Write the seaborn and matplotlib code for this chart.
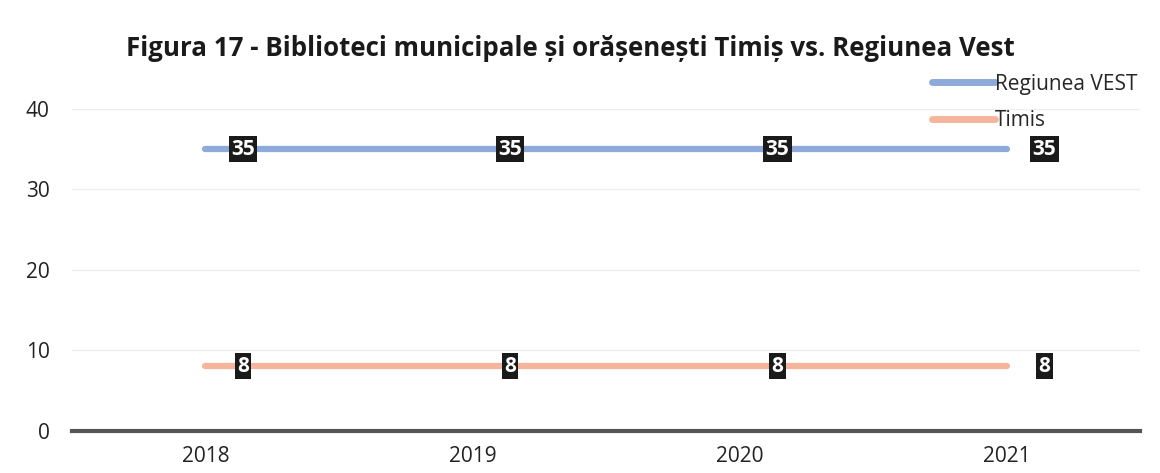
import matplotlib
matplotlib.use("Agg")
import matplotlib.pyplot as plt
import seaborn as sns
import pandas as pd

years = ["2018", "2019", "2020", "2021"]
regiunea_vest = [35, 35, 35, 35]
timis = [8, 8, 8, 8]
series_names = ["Regiunea VEST", "Timis"]

sns.set_theme(style="white")
plt.rcParams['font.family'] = ['Open Sans', 'DejaVu Sans']

df = pd.DataFrame({
    "an": years * 2,
    "valoare": regiunea_vest + timis,
    "serie": [series_names[0]] * len(years) + [series_names[1]] * len(years),
})

colors = {"Regiunea VEST": "#8eaadb", "Timis": "#f5b59c"}

fig = plt.figure(figsize=(11.6, 4.73), dpi=100)
ax = fig.add_axes([0.062, 0.089, 0.921, 0.681])

sns.lineplot(data=df, x="an", y="valoare", hue="serie", palette=colors,
             linewidth=4.5, ax=ax, sort=False)

# etichete de date
for i, yr in enumerate(years):
    for vals in (regiunea_vest, timis):
        ax.annotate(str(vals[i]), (i, vals[i]), xytext=(27, 0), textcoords="offset points",
                    ha="center", va="center", color="white", fontsize=15, fontweight="bold",
                    bbox=dict(boxstyle="square,pad=0.12", fc="#1a1a1a", ec="none"))

ax.set_xlim(-0.5, 3.5)
ax.set_ylim(0, 40)
ax.set_yticks([0, 10, 20, 30, 40])
ax.yaxis.grid(True, color="#eeeeee", linewidth=1)
ax.set_axisbelow(True)
for s in ["top", "right", "left"]:
    ax.spines[s].set_visible(False)
ax.spines["bottom"].set_color("#555555")
ax.spines["bottom"].set_linewidth(3)
ax.tick_params(axis="both", labelsize=15, colors="#222222", length=0)
ax.tick_params(axis="x", pad=11)
ax.tick_params(axis="y", pad=16)
ax.set_xlabel("")
ax.set_ylabel("")

leg = ax.legend(loc="upper right", bbox_to_anchor=(1.005, 1.135), frameon=False,
                fontsize=15, handlelength=3.0, handletextpad=0.0, labelspacing=0.75,
                borderaxespad=0)
for line in leg.get_lines():
    line.set_linewidth(5)

fig.suptitle("Figura 17 - Biblioteci municipale și orășenești Timiș vs. Regiunea Vest",
             x=0.492, y=0.925, fontsize=18.6, fontweight="bold", color="#1a1a1a")

fig.savefig("out.png", dpi=100, facecolor="white")
